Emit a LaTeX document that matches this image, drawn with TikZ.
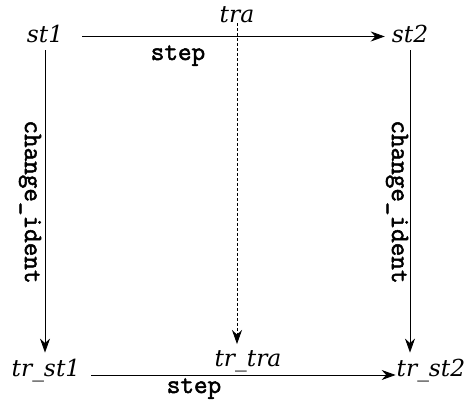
\documentclass[tikz,border=0pt]{standalone}
\usepackage{fontspec}
\setmainfont{DejaVu Serif}
\newfontfamily\fnfont{Latin Modern Mono}[FakeBold=2]
\usetikzlibrary{arrows.meta}

\begin{document}
\begin{tikzpicture}[x=0.5pt,y=0.5pt,
  st/.style={anchor=base,font=\fontsize{11.7}{14}\selectfont\itshape},
  fn/.style={font=\fontsize{13.2}{15}\selectfont\fnfont},
  arr/.style={-{Stealth[length=7pt,width=5pt]}}]
\useasboundingbox (0,0) rectangle (468,403);
\path ( 45,360) node[st] (st1)    {st1};
\path (410,360) node[st] (st2)    {st2};
\path (237,380) node[st] (tra)    {tra};
\path ( 46, 26) node[st] (trst1)  {tr\_st1};
\path (431, 26) node[st] (trst2)  {tr\_st2};
\path (248, 36) node[st] (trtra)  {tr\_tra};
\path (178,343) node[fn,anchor=base] (steptop) {step};
\path (194, 10) node[fn,anchor=base] (stepbot) {step};
\path ( 30,201) node[fn,rotate=-90] (chleft)  {change\_ident};
\path (397,201) node[fn,rotate=-90] (chright) {change\_ident};
\draw [arr,shorten <=6pt] ([yshift=-1pt]st1.east) -- ([yshift=-1pt]st2.west);
\draw [arr] (st1) -- (st1 |- trst1.north);
\draw [arr] (st2.south) -- (st2.south |- trst2.north);
\draw [arr,dash pattern=on 1.5pt off 1pt] (tra.base) -- (tra.base |- trtra.north);
\draw [arr,shorten <=2pt,shorten >=-3pt] ([yshift=1pt]trst1.base east) -- ([yshift=1pt]trst2.base west);
\end{tikzpicture}
\end{document}
